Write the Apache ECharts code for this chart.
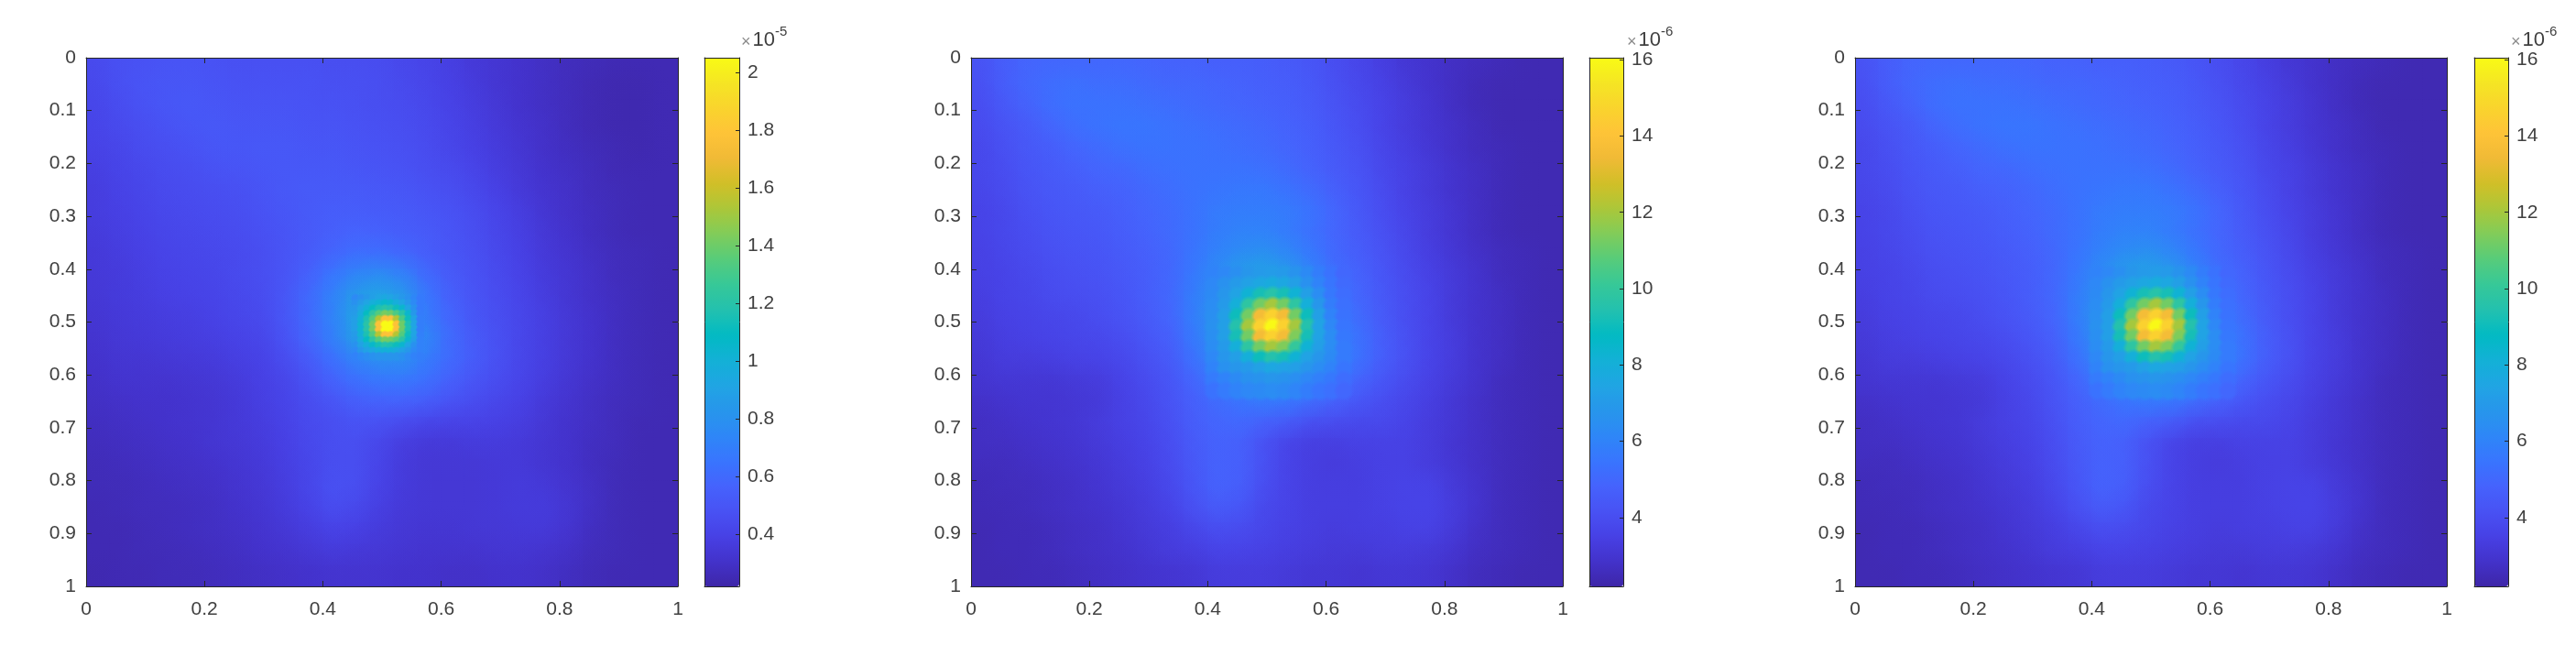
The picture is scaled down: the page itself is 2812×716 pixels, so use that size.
<!DOCTYPE html>
<html>
<head>
<meta charset="utf-8">
<style>
  html, body { margin: 0; padding: 0; background: #fff; }
  #chart { width: 2812px; height: 716px; }
</style>
<script src="https://cdn.jsdelivr.net/npm/echarts@6/dist/echarts.min.js"></script>
</head>
<body>
<div id="chart"></div>
<script>
// axis ticks, all three panels
const xTicks = [0, 0.2, 0.4, 0.6, 0.8, 1]
const yTicks = [0, 0.1, 0.2, 0.3, 0.4, 0.5, 0.6, 0.7, 0.8, 0.9, 1]

// colour bars, values in units of 1e-7
const barTicksA = [40, 60, 80, 100, 120, 140, 160, 180, 200]
const barLabelsA = ['0.4', '0.6', '0.8', '1', '1.2', '1.4', '1.6', '1.8', '2']
const barTicksB = [40, 60, 80, 100, 120, 140, 160]
const barLabelsB = ['4', '6', '8', '10', '12', '14', '16']
const rangeA = [22, 205]
const rangeB = [22, 160.5]

const parula = ['#3E26A8', '#4332CB', '#4741E5', '#4852F4', '#4563FD', '#3875FE', '#2E87F7', '#2796EB',
  '#20A5E3', '#12B1D6', '#02BAC3', '#24C1AE', '#37C897', '#57CC7A', '#81CC59', '#ABC739',
  '#D1BF27', '#F0BA36', '#FEC338', '#FAD42D', '#F5E523', '#F9FB15']

// left panel, coarse field (25 x 25, rows top to bottom)
const fieldA = [
  [44, 47, 48, 49, 49, 48, 47, 47, 47, 47, 46, 46, 45, 43, 41, 38, 35, 33, 31, 29, 27, 26, 25, 25, 25],
  [43, 47, 49, 50, 50, 49, 48, 48, 48, 48, 47, 47, 46, 44, 42, 39, 36, 33, 31, 29, 27, 25, 24, 24, 25],
  [42, 45, 48, 50, 51, 50, 49, 49, 49, 48, 48, 47, 46, 45, 43, 40, 37, 34, 31, 29, 27, 25, 24, 24, 25],
  [41, 44, 46, 48, 50, 51, 50, 50, 50, 49, 49, 48, 47, 46, 44, 41, 38, 35, 32, 30, 27, 25, 24, 24, 25],
  [40, 42, 45, 46, 48, 50, 50, 51, 51, 50, 50, 49, 48, 47, 45, 42, 39, 36, 33, 30, 28, 26, 25, 24, 25],
  [38, 41, 43, 45, 46, 48, 49, 50, 51, 51, 51, 50, 49, 48, 46, 44, 41, 37, 34, 31, 29, 27, 25, 25, 25],
  [37, 40, 42, 44, 45, 46, 47, 49, 51, 52, 52, 52, 51, 50, 48, 46, 43, 39, 35, 32, 30, 27, 26, 25, 25],
  [37, 39, 41, 43, 44, 45, 46, 48, 50, 52, 54, 54, 53, 52, 50, 48, 45, 41, 37, 33, 30, 28, 26, 25, 25],
  [36, 38, 40, 42, 43, 44, 45, 47, 49, 52, 55, 57, 56, 54, 52, 49, 46, 42, 38, 34, 31, 28, 26, 25, 25],
  [35, 37, 39, 41, 42, 43, 44, 46, 49, 53, 58, 62, 62, 59, 54, 50, 47, 43, 39, 35, 32, 29, 27, 26, 25],
  [35, 36, 38, 40, 41, 42, 44, 46, 49, 56, 66, 74, 78, 72, 60, 52, 48, 44, 40, 36, 33, 30, 27, 26, 25],
  [34, 36, 37, 39, 40, 41, 43, 45, 50, 60, 72, 86, 92, 84, 66, 55, 49, 45, 41, 37, 33, 30, 28, 26, 25],
  [33, 35, 36, 37, 38, 40, 42, 44, 50, 60, 72, 90, 95, 88, 68, 58, 50, 46, 42, 38, 34, 31, 28, 26, 25],
  [32, 34, 35, 36, 37, 38, 40, 42, 48, 58, 70, 86, 92, 88, 74, 60, 52, 47, 42, 38, 34, 31, 28, 26, 25],
  [31, 33, 33, 34, 35, 36, 38, 40, 45, 52, 62, 72, 78, 78, 68, 60, 53, 47, 42, 38, 34, 31, 28, 26, 25],
  [30, 32, 32, 32, 33, 34, 36, 39, 42, 48, 56, 62, 66, 66, 62, 55, 49, 45, 41, 37, 33, 30, 28, 26, 25],
  [29, 30, 31, 31, 32, 33, 35, 38, 41, 45, 49, 54, 56, 56, 53, 48, 45, 42, 39, 35, 32, 29, 27, 26, 25],
  [28, 29, 30, 31, 32, 33, 35, 37, 40, 44, 46, 48, 47, 44, 41, 40, 40, 39, 37, 34, 31, 29, 27, 25, 25],
  [27, 28, 29, 30, 31, 33, 34, 36, 39, 43, 46, 46, 42, 37, 35, 35, 36, 36, 35, 33, 31, 28, 27, 25, 25],
  [26, 27, 28, 29, 30, 31, 33, 35, 38, 42, 46, 46, 41, 36, 34, 34, 34, 35, 35, 33, 31, 28, 26, 25, 25],
  [26, 26, 27, 28, 29, 30, 32, 34, 37, 42, 47, 46, 40, 36, 34, 34, 34, 35, 36, 35, 32, 29, 26, 25, 25],
  [25, 26, 27, 27, 28, 29, 31, 33, 36, 40, 45, 43, 38, 35, 34, 34, 34, 35, 36, 36, 33, 29, 26, 25, 25],
  [25, 25, 26, 27, 28, 29, 30, 32, 34, 37, 40, 39, 36, 34, 33, 33, 34, 34, 35, 35, 32, 28, 26, 25, 25],
  [25, 25, 26, 26, 27, 28, 29, 31, 32, 34, 36, 35, 34, 33, 32, 32, 32, 33, 33, 32, 30, 27, 26, 25, 25],
  [24, 25, 25, 26, 26, 27, 28, 29, 30, 31, 32, 32, 32, 31, 31, 30, 30, 31, 31, 30, 28, 26, 25, 25, 25]
]

// left panel, fine cells round the peak
const coreA = [
  [76, 80, 84, 88, 92, 94, 92, 88, 84, 80, 74, 68],
  [80, 86, 92, 98, 102, 106, 104, 98, 92, 84, 76, 68],
  [84, 92, 100, 110, 116, 120, 118, 112, 104, 92, 80, 68],
  [86, 96, 110, 122, 134, 142, 140, 132, 120, 104, 84, 69],
  [88, 100, 116, 134, 155, 178, 178, 155, 132, 112, 90, 70],
  [88, 102, 120, 142, 178, 205, 205, 178, 140, 116, 92, 70],
  [88, 102, 120, 142, 178, 205, 205, 178, 140, 116, 92, 70],
  [86, 100, 116, 134, 155, 178, 178, 155, 134, 112, 92, 71],
  [84, 96, 110, 122, 134, 142, 140, 134, 122, 104, 88, 72],
  [80, 90, 98, 106, 114, 118, 116, 112, 104, 92, 80, 72],
  [76, 84, 90, 94, 98, 100, 100, 96, 90, 84, 76, 72],
  [72, 75, 78, 80, 82, 82, 82, 82, 80, 76, 72, 70]
]

// middle and right panels look the same at this reading
const fieldB = [
  [42, 46, 49, 50, 50, 50, 50, 49, 48, 48, 47, 47, 46, 45, 43, 40, 37, 34, 31, 29, 27, 26, 25, 24, 24],
  [41, 46, 50, 52, 53, 52, 52, 51, 50, 50, 49, 48, 47, 46, 44, 41, 38, 35, 32, 29, 27, 25, 24, 24, 24],
  [40, 44, 48, 52, 54, 54, 54, 53, 52, 51, 50, 49, 48, 47, 45, 42, 39, 36, 33, 30, 27, 25, 24, 24, 24],
  [39, 42, 45, 49, 52, 54, 55, 55, 54, 53, 52, 51, 50, 48, 46, 43, 40, 36, 33, 30, 28, 26, 24, 24, 24],
  [38, 41, 44, 46, 49, 51, 53, 54, 54, 54, 53, 52, 51, 49, 47, 44, 41, 37, 34, 31, 28, 26, 25, 24, 24],
  [38, 40, 43, 45, 47, 49, 50, 52, 53, 54, 54, 54, 53, 51, 48, 45, 42, 38, 35, 32, 29, 27, 25, 24, 24],
  [37, 39, 42, 44, 45, 47, 48, 50, 52, 54, 55, 56, 56, 54, 51, 47, 43, 39, 35, 32, 29, 27, 25, 24, 24],
  [36, 38, 41, 43, 44, 45, 47, 49, 51, 54, 57, 58, 58, 57, 54, 49, 44, 40, 36, 33, 30, 27, 25, 24, 24],
  [36, 38, 40, 42, 43, 44, 46, 48, 51, 54, 58, 60, 60, 57, 53, 49, 45, 41, 37, 33, 30, 27, 25, 24, 24],
  [35, 37, 39, 41, 42, 43, 45, 47, 50, 55, 60, 64, 66, 62, 56, 50, 46, 42, 38, 34, 31, 28, 26, 25, 24],
  [35, 36, 38, 40, 41, 42, 44, 46, 50, 56, 64, 72, 74, 70, 60, 52, 48, 43, 39, 35, 32, 29, 26, 25, 24],
  [34, 36, 37, 39, 40, 41, 43, 46, 50, 58, 66, 76, 82, 76, 64, 55, 49, 44, 40, 36, 32, 29, 27, 25, 24],
  [33, 35, 36, 37, 38, 40, 42, 45, 49, 58, 68, 80, 86, 80, 68, 57, 51, 45, 40, 36, 32, 29, 27, 25, 24],
  [32, 34, 35, 36, 37, 38, 40, 43, 47, 56, 66, 76, 82, 78, 70, 60, 53, 46, 41, 36, 33, 29, 27, 25, 24],
  [31, 33, 33, 34, 35, 36, 38, 41, 45, 53, 62, 70, 74, 72, 66, 60, 53, 46, 41, 36, 33, 29, 27, 25, 24],
  [30, 31, 31, 31, 32, 33, 36, 39, 43, 49, 56, 62, 65, 64, 60, 54, 48, 43, 39, 35, 32, 29, 26, 25, 24],
  [28, 29, 30, 30, 31, 32, 35, 38, 42, 47, 51, 54, 56, 55, 51, 47, 43, 40, 37, 34, 31, 28, 26, 25, 24],
  [27, 28, 29, 30, 31, 33, 35, 37, 41, 46, 49, 50, 47, 44, 40, 39, 38, 38, 36, 33, 31, 28, 26, 25, 24],
  [27, 27, 28, 29, 30, 32, 34, 36, 40, 45, 48, 47, 41, 36, 34, 34, 35, 35, 35, 33, 30, 28, 26, 25, 24],
  [26, 26, 27, 28, 29, 31, 33, 35, 39, 44, 48, 47, 41, 36, 34, 33, 34, 35, 35, 33, 31, 28, 26, 25, 24],
  [25, 26, 26, 27, 28, 30, 32, 34, 38, 43, 48, 46, 40, 36, 34, 34, 34, 35, 36, 36, 32, 29, 26, 25, 24],
  [25, 25, 26, 27, 28, 29, 31, 33, 36, 41, 45, 43, 38, 36, 34, 34, 34, 35, 36, 36, 33, 29, 26, 25, 24],
  [24, 25, 25, 26, 27, 28, 30, 32, 34, 37, 40, 39, 37, 35, 34, 33, 34, 34, 35, 35, 32, 28, 26, 25, 24],
  [24, 25, 25, 26, 27, 28, 29, 31, 33, 34, 36, 36, 35, 34, 33, 32, 32, 33, 33, 32, 30, 27, 26, 25, 24],
  [24, 24, 25, 25, 26, 27, 28, 29, 30, 31, 33, 33, 33, 32, 31, 31, 30, 31, 31, 30, 28, 26, 25, 24, 24]
]

const coreB = [
  [60, 62, 65, 68, 70, 71, 70, 67, 63, 58, 54, 50],
  [62, 66, 70, 73, 76, 78, 76, 72, 66, 60, 55, 51],
  [63, 68, 74, 82, 92, 96, 92, 82, 72, 64, 56, 52],
  [64, 70, 80, 98, 112, 120, 112, 98, 80, 68, 58, 53],
  [65, 72, 90, 112, 136, 146, 136, 112, 90, 72, 60, 54],
  [66, 72, 95, 120, 146, 160, 146, 120, 95, 74, 62, 55],
  [65, 72, 92, 112, 136, 146, 136, 114, 92, 74, 64, 56],
  [64, 70, 80, 98, 112, 120, 114, 100, 82, 72, 64, 57],
  [62, 68, 72, 80, 90, 95, 92, 82, 74, 68, 63, 57],
  [60, 66, 68, 70, 73, 76, 74, 72, 68, 64, 60, 55],
  [57, 60, 63, 66, 67, 68, 67, 65, 62, 59, 56, 52],
  [54, 57, 60, 62, 63, 64, 63, 61, 58, 55, 53, 50]
]

const ink = '#262626'
const textColor = '#404040'
const font = '"Liberation Sans", Arial, sans-serif'

const chart = echarts.init(document.getElementById('chart'))

// rows -> [x, y, value], first cell centred on start + step / 2
function toCells(rows, start, step) {
  const cells = []
  rows.forEach((row, j) => {
    row.forEach((v, i) => {
      cells.push([start + (i + 0.5) * step, start + (j + 0.5) * step, v])
    })
  })
  return cells
}

function hardCell(step) {
  return (params, api) => {
    const c = api.coord([api.value(0), api.value(1)])
    const s = api.size([step, step])
    return {
      type: 'rect',
      shape: { x: c[0] - s[0] / 2 - 0.5, y: c[1] - s[1] / 2 - 0.5, width: s[0] + 1, height: s[1] + 1 },
      style: { fill: api.visual('color') }
    }
  }
}

// soft blob so neighbouring cells do not read as hard blocks
// reach: half size in cells, plateau: where the fade starts, peak: alpha in the middle
function softCell(step, reach, plateau, peak) {
  return (params, api) => {
    const c = api.coord([api.value(0), api.value(1)])
    const s = api.size([step, step])
    const color = api.visual('color')
    return {
      type: 'rect',
      shape: { x: c[0] - reach * s[0], y: c[1] - reach * s[1], width: 2 * reach * s[0], height: 2 * reach * s[1] },
      style: {
        fill: new echarts.graphic.RadialGradient(0.5, 0.5, 0.5, [
          { offset: 0, color: echarts.color.modifyAlpha(color, peak) },
          { offset: plateau, color: echarts.color.modifyAlpha(color, peak) },
          { offset: 1, color: echarts.color.modifyAlpha(color, 0) }
        ])
      }
    }
  }
}

const panels = [
  { left: 94, barLeft: 769, barWidth: 38, range: rangeA, ticks: barTicksA, labels: barLabelsA, field: fieldA, core: coreA, coreStart: 0.45, coreStep: 0.01, power: '-5', powerLeft: 809 },
  { left: 1060, barLeft: 1735, barWidth: 37, range: rangeB, ticks: barTicksB, labels: barLabelsB, field: fieldB, core: coreB, coreStart: 0.40, coreStep: 0.02, power: '-6', powerLeft: 1776 },
  { left: 2025, barLeft: 2701, barWidth: 37, range: rangeB, ticks: barTicksB, labels: barLabelsB, field: fieldB, core: coreB, coreStart: 0.40, coreStep: 0.02, power: '-6', powerLeft: 2741 }
]

const plotTop = 63
const plotWidth = 646
const plotHeight = 577
const coarseStep = 0.04

const grid = [], xAxis = [], yAxis = [], series = [], visualMap = [], title = []

function edgeAxis(gridIndex, position, extra) {
  return Object.assign({
    gridIndex, position, type: 'value', z: 6, silent: true,
    axisLine: { show: true, onZero: false, lineStyle: { color: ink, width: 1 } },
    axisTick: { show: false },
    axisLabel: { show: false },
    splitLine: { show: false }
  }, extra)
}

function ticksFor(values, noLabels) {
  return {
    axisTick: { show: true, inside: true, length: 6, customValues: values, lineStyle: { color: ink, width: 1 } },
    axisLabel: {
      show: !noLabels, customValues: values, color: textColor, fontFamily: font, fontSize: 21,
      hideOverlap: false
    }
  }
}

panels.forEach((p, k) => {
  const plotGrid = 2 * k
  const barGrid = 2 * k + 1
  grid.push({ left: p.left, top: plotTop, width: plotWidth, height: plotHeight })
  grid.push({ left: p.barLeft, top: plotTop, width: p.barWidth, height: plotHeight })

  // plot axes: all four sides, ticks mirrored as in a boxed axis
  const xBase = { min: 0, max: 1 }
  const yBase = { min: 0, max: 1, inverse: true }
  const xBottom = edgeAxis(plotGrid, 'bottom', Object.assign({}, xBase, ticksFor(xTicks)))
  xBottom.axisLabel.margin = 15
  const yLeft = edgeAxis(plotGrid, 'left', Object.assign({}, yBase, ticksFor(yTicks)))
  yLeft.axisLabel.margin = 11
  const xIndex = xAxis.length
  const yIndex = yAxis.length
  xAxis.push(xBottom, edgeAxis(plotGrid, 'top', Object.assign({}, xBase, ticksFor(xTicks, true))))
  yAxis.push(yLeft, edgeAxis(plotGrid, 'right', Object.assign({}, yBase, ticksFor(yTicks, true))))

  // colour bar frame and its ticks
  const barTicks = edgeAxis(barGrid, 'right', Object.assign({ min: p.range[0], max: p.range[1] }, ticksFor(p.ticks)))
  barTicks.axisTick.length = 4
  barTicks.axisLabel.margin = 9
  barTicks.axisLabel.formatter = v => p.labels[p.ticks.indexOf(v)]
  xAxis.push(edgeAxis(barGrid, 'bottom', { min: 0, max: 1 }), edgeAxis(barGrid, 'top', { min: 0, max: 1 }))
  yAxis.push(barTicks, edgeAxis(barGrid, 'left', { min: p.range[0], max: p.range[1] }))

  const first = series.length
  const coarse = toCells(p.field, 0, coarseStep)
  const base = {
    type: 'custom', coordinateSystem: 'cartesian2d', xAxisIndex: xIndex, yAxisIndex: yIndex,
    encode: { x: 0, y: 1 }, clip: true, silent: true, animation: false, z: 2
  }
  series.push(Object.assign({}, base, { data: coarse, renderItem: hardCell(coarseStep) }))
  series.push(Object.assign({}, base, { data: coarse, renderItem: softCell(coarseStep, 1.4, 0, 0.85), z: 3 }))
  series.push(Object.assign({}, base, { data: toCells(p.core, p.coreStart, p.coreStep), renderItem: softCell(p.coreStep, 1.0, 0.6, 1), z: 4 }))

  visualMap.push({
    type: 'continuous', min: p.range[0], max: p.range[1], dimension: 2,
    seriesIndex: [first, first + 1, first + 2],
    left: p.barLeft, top: plotTop, itemWidth: p.barWidth, itemHeight: plotHeight,
    padding: 0, calculable: false, hoverLink: false, z: 5,
    inRange: { color: parula }
  })

  title.push({
    text: '{x|×}{b|10}{e|' + p.power + '}', left: p.powerLeft, top: 27, padding: 0,
    textStyle: {
      fontWeight: 'normal',
      rich: {
        x: { fontFamily: font, fontSize: 18, fontWeight: 'normal', color: '#8a8a8a', padding: [0, 2, 0, 0], verticalAlign: 'bottom', lineHeight: 28 },
        b: { fontFamily: font, fontSize: 22, fontWeight: 'normal', color: textColor, verticalAlign: 'bottom', lineHeight: 28 },
        e: { fontFamily: font, fontSize: 15, fontWeight: 'normal', color: textColor, verticalAlign: 'top', lineHeight: 15 }
      }
    }
  })
})

chart.setOption({ animation: false, backgroundColor: '#fff', title, grid, xAxis, yAxis, visualMap, series })
</script>
</body>
</html>
